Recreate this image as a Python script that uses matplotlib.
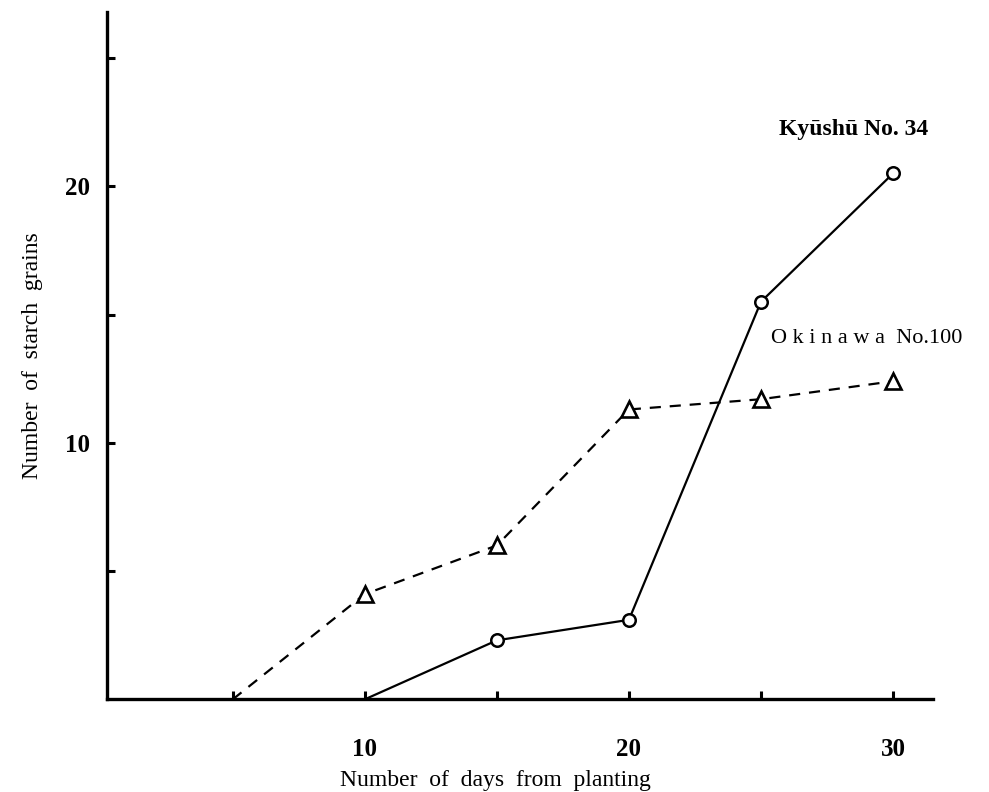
import matplotlib
matplotlib.use('Agg')
import matplotlib.pyplot as plt

days_k = [10, 15, 20, 25, 30]
kyushu = [0, 2.3, 3.1, 15.5, 20.5]
days_o = [5, 10, 15, 20, 25, 30]
okinawa = [0, 4.1, 6.0, 11.3, 11.7, 12.4]

plt.rcParams['font.family'] = ['Liberation Serif', 'DejaVu Serif']

fig = plt.figure(figsize=(9.89, 7.92), dpi=100)
ax = fig.add_axes([0.108, 0.117, 0.835, 0.868])

# lines first, markers only where grains were counted
ax.plot(days_k, kyushu, color='black', lw=1.6)
ax.plot(days_k[1:], kyushu[1:], 'o', color='black', mfc='white', ms=9, mew=1.8)
ax.plot(days_o, okinawa, color='black', lw=1.6, ls=(0, (5, 4)))
ax.plot(days_o[1:], okinawa[1:], '^', color='black', mfc='white', ms=12, mew=1.9)

ax.set_xlim(0.23, 31.5)
ax.set_ylim(0, 26.8)
ax.spines['top'].set_visible(False)
ax.spines['right'].set_visible(False)
ax.spines['left'].set_linewidth(2.4)
ax.spines['bottom'].set_linewidth(2.4)

ax.set_xticks([5, 10, 15, 20, 25, 30])
ax.set_xticklabels(['', '10', '', '20', '', '30'])
ax.set_yticks([5, 10, 15, 20, 25])
ax.set_yticklabels(['', '10', '', '20', ''])
ax.tick_params(direction='in', length=6, width=2.2, labelsize=18)
ax.tick_params(axis='x', pad=28)
ax.tick_params(axis='y', pad=12)
for t in ax.get_xticklabels() + ax.get_yticklabels():
    t.set_fontweight('bold')

ax.set_xlabel('Number  of  days  from  planting', fontsize=17, labelpad=6)
ax.xaxis.label.set_x(0.47)
ax.set_ylabel('Number  of  starch  grains', fontsize=17, labelpad=16)

ax.text(28.5, 22.0, 'Kyūshū No. 34', fontsize=17, fontweight='bold', ha='center')
ax.text(29.0, 13.9, 'O k i n a w a  No.100', fontsize=16, ha='center')

fig.savefig('out.png', dpi=100)
